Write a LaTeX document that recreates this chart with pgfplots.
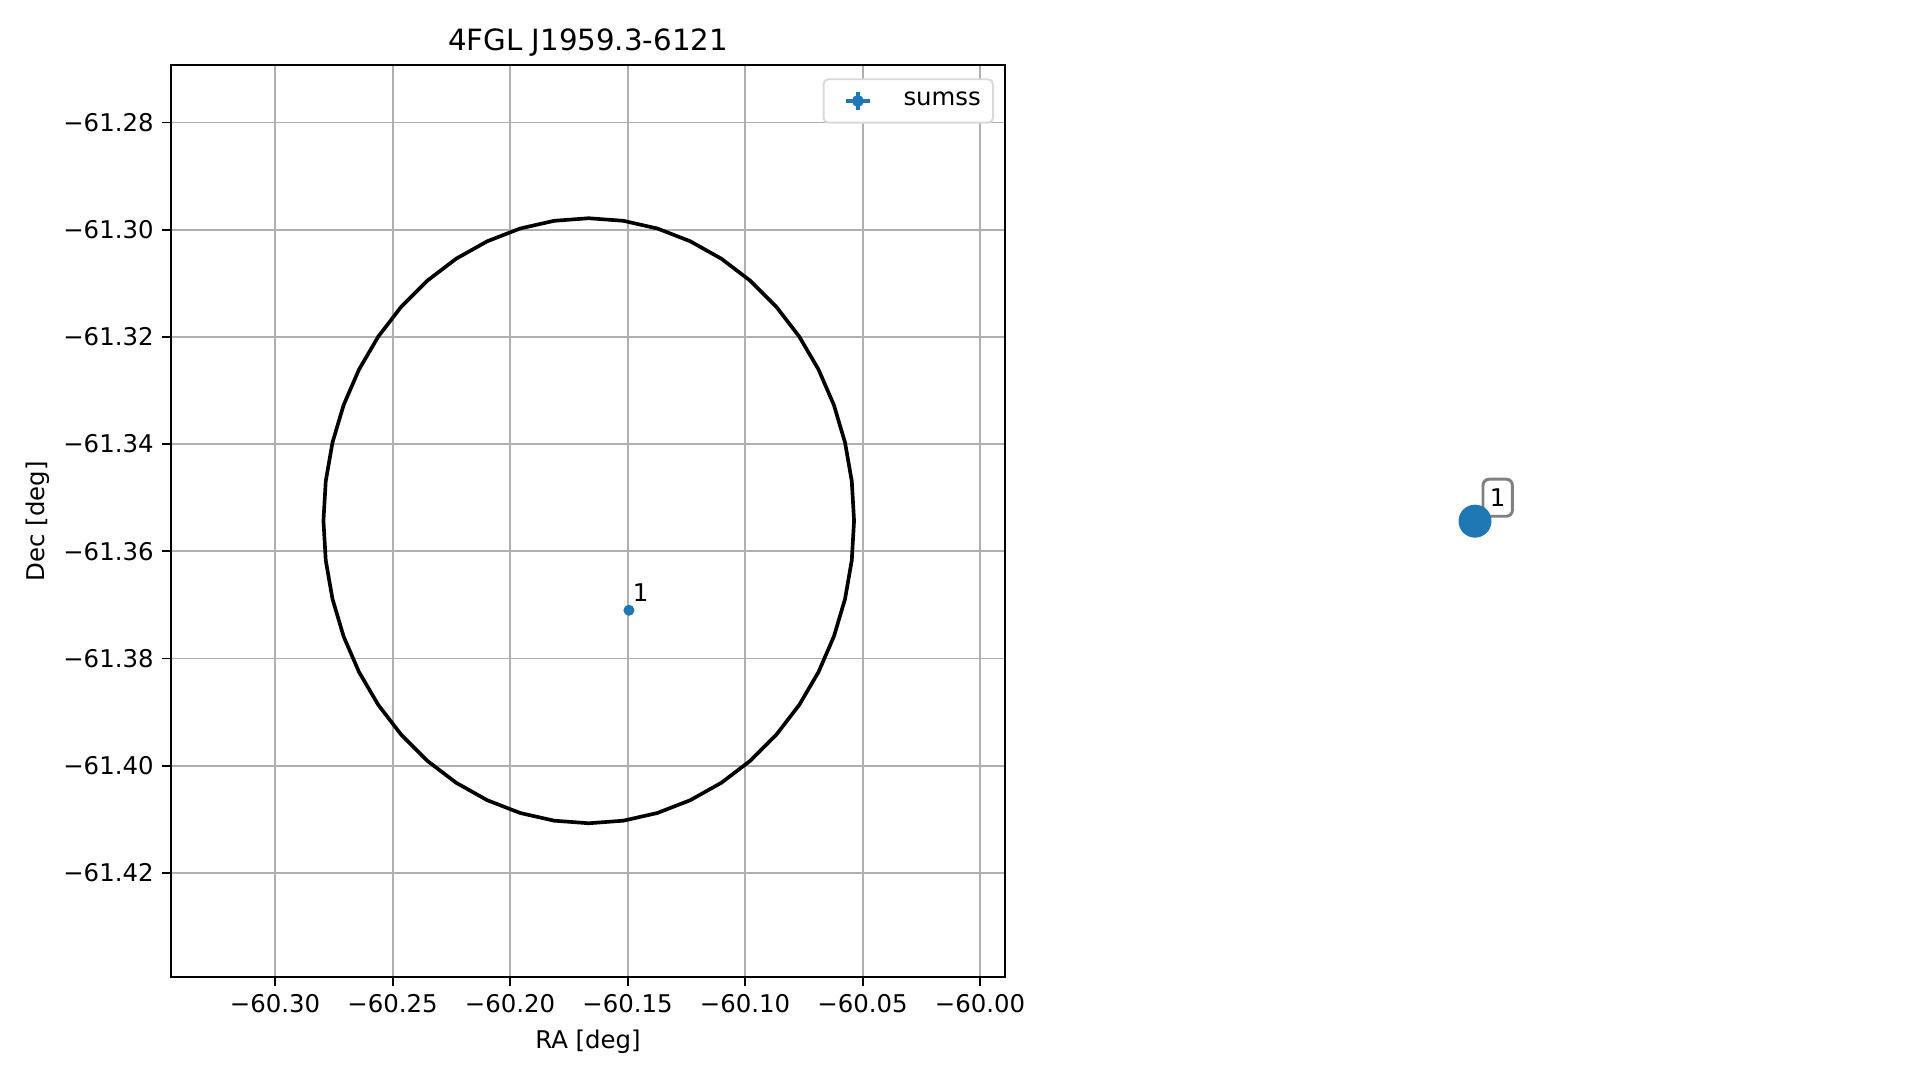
\documentclass[border=0pt]{standalone}
\usepackage{pgfplots}
\pgfplotsset{compat=1.18}
\usepackage{fontspec}
\setmainfont{DejaVu Sans}
\definecolor{tabblue}{HTML}{1F77B4}
\definecolor{gridgray}{HTML}{B0B0B0}
\begin{document}
\begin{tikzpicture}
\path[use as bounding box] (0,0) rectangle (786.79pt,442.8pt);
\begin{axis}[
  at={(69.99pt,42.11pt)}, anchor=south west,
  scale only axis, width=342.19pt, height=374.04pt,
  xmin=-60.3444, xmax=-59.98923,
  ymin=-61.43948, ymax=-61.26927,
  xtick={-60.30,-60.25,-60.20,-60.15,-60.10,-60.05,-60.00},
  xticklabels={−60.30,−60.25,−60.20,−60.15,−60.10,−60.05,−60.00},
  ytick={-61.42,-61.40,-61.38,-61.36,-61.34,-61.32,-61.30,-61.28},
  yticklabels={−61.42,−61.40,−61.38,−61.36,−61.34,−61.32,−61.30,−61.28},
  tick align=outside, major tick length=3.5pt,
  every tick/.style={black, line width=0.8pt},
  axis line style={line width=0.8pt},
  grid=major, grid style={gridgray, line width=0.8pt},
  xtick pos=bottom, ytick pos=left,
  font=\fontsize{10}{12}\selectfont,
  xlabel={RA [deg]}, ylabel={Dec [deg]},
  xlabel style={at={(axis description cs:0.5,-0.0712)}, anchor=center},
  ylabel style={at={(axis description cs:-0.1595,0.5)}, anchor=center, rotate=0},
  title={4FGL J1959.3-6121},
  every axis title shift=0pt,
  title style={at={(axis description cs:0.5,1.0244)}, anchor=center, yshift=0pt, font=\fontsize{12}{14}\selectfont},
  legend style={at={(0.98646,0.98543)}, anchor=north east, draw=black!15, line width=0.8pt,
    rounded corners=2pt, inner xsep=0pt, inner ysep=0pt, fill=white,
    font=\fontsize{10}{12}\selectfont, nodes={inner sep=0pt}},
  legend cell align=left,
]
\addplot[black, line width=1.5pt, forget plot] table {
x y
-60.0536 -61.3543
-60.05457 -61.34693
-60.05745 -61.33969
-60.06219 -61.33270
-60.06873 -61.32608
-60.07693 -61.31994
-60.08667 -61.31439
-60.09777 -61.30952
-60.11005 -61.30542
-60.12330 -61.30216
-60.13728 -61.29978
-60.15176 -61.29834
-60.1665 -61.29786
-60.18124 -61.29834
-60.19572 -61.29978
-60.20970 -61.30216
-60.22295 -61.30542
-60.23523 -61.30952
-60.24633 -61.31439
-60.25607 -61.31994
-60.26427 -61.32608
-60.27081 -61.33270
-60.27555 -61.33969
-60.27843 -61.34693
-60.2794 -61.3543
-60.27843 -61.36167
-60.27555 -61.36891
-60.27081 -61.37590
-60.26427 -61.38252
-60.25607 -61.38866
-60.24633 -61.39421
-60.23523 -61.39908
-60.22295 -61.40318
-60.20970 -61.40644
-60.19572 -61.40882
-60.18124 -61.41026
-60.1665 -61.41074
-60.15176 -61.41026
-60.13728 -61.40882
-60.12330 -61.40644
-60.11005 -61.40318
-60.09777 -61.39908
-60.08667 -61.39421
-60.07693 -61.38866
-60.06873 -61.38252
-60.06219 -61.37590
-60.05745 -61.36891
-60.05457 -61.36167
-60.0536 -61.3543
};
\addplot[only marks, mark=*, mark size=2.05pt, color=tabblue,
  legend image code/.code={
    \path[draw=none, fill=none] (0pt,-8.9pt) rectangle (32.8pt,8.9pt);
    \draw[tabblue, line width=1.5pt, rounded corners=0pt] (9.1pt,0pt) -- (19.1pt,0pt);
    \draw[tabblue, line width=1.5pt, rounded corners=0pt] (14.1pt,-3.7pt) -- (14.1pt,3.7pt);
    \fill[tabblue] (14.1pt,0pt) circle (2.05pt);
  }] coordinates {(-60.1494,-61.3710)};
\addlegendentry{sumss\hspace*{5pt}\mbox{}}
\node[anchor=base west, inner sep=0pt, xshift=1.4pt, yshift=3.7pt, font=\fontsize{10}{12}\selectfont]
  at (axis cs:-60.1494,-61.3710) {1};
\end{axis}
\begin{axis}[
  at={(471.5pt,42.11pt)}, anchor=south west,
  scale only axis, width=266.5pt, height=374.04pt,
  xmin=0, xmax=2, ymin=0, ymax=2, hide axis, clip=false,
]
\addplot[only marks, mark=*, mark size=6.56pt, color=tabblue] coordinates {(1,1)};
\node[draw=gray, line width=1.2pt, rounded corners=2.5pt, fill=white, fill opacity=0.8, text opacity=1,
  minimum width=12.05pt, minimum height=15.2pt, inner sep=0pt, anchor=center,
  xshift=9.3pt, yshift=9.6pt, font=\fontsize{10}{12}\selectfont]
  at (axis cs:1,1) {1};
\end{axis}
\end{tikzpicture}
\end{document}
